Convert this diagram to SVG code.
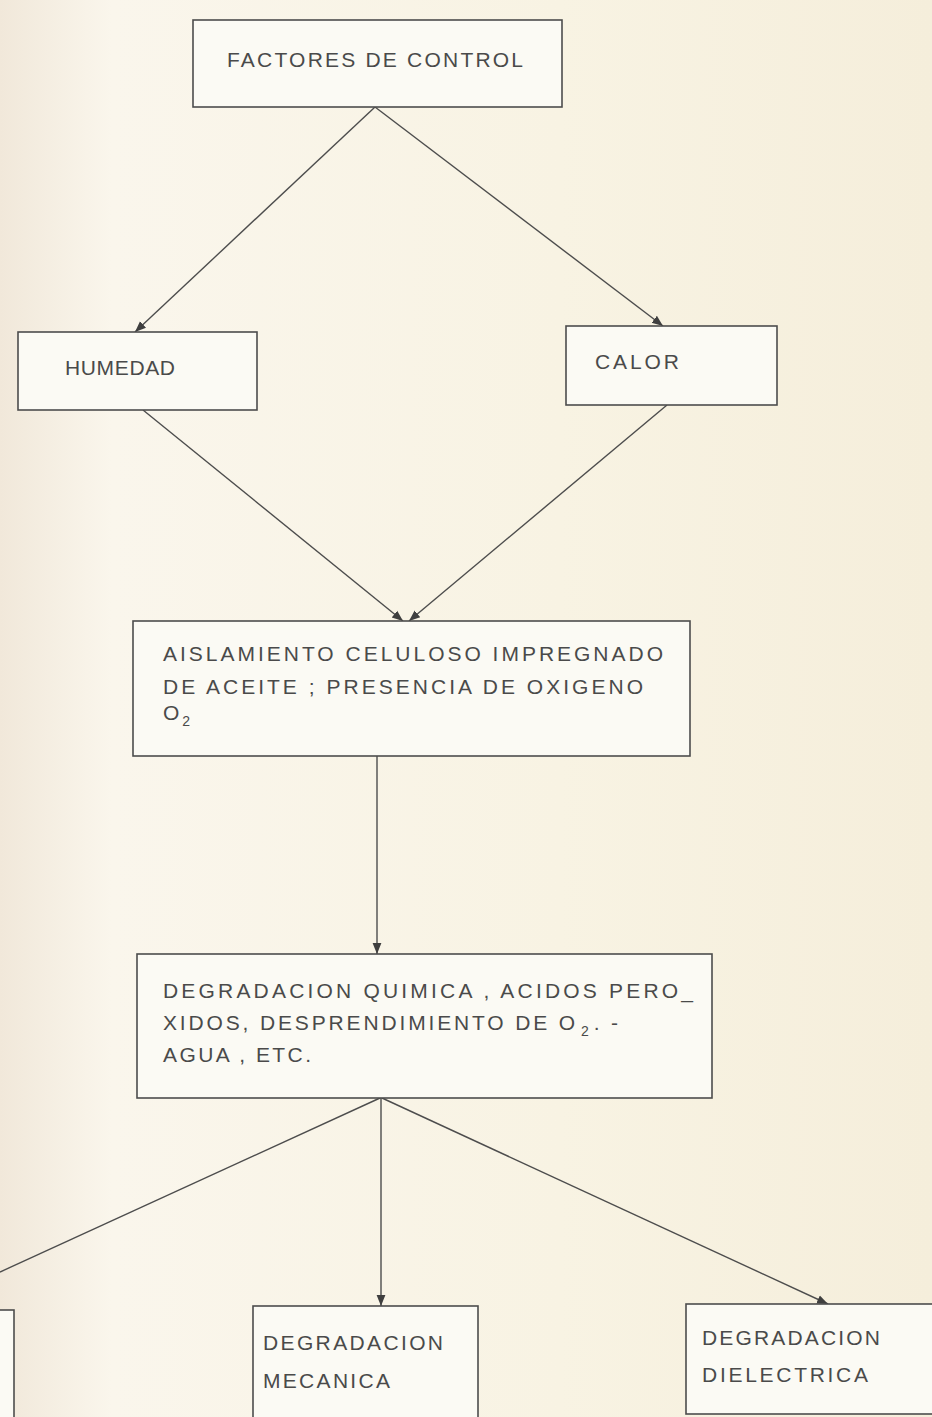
<svg xmlns="http://www.w3.org/2000/svg" width="932" height="1417" viewBox="0 0 932 1417">
  <style>
    .box { fill: #fbfaf4; stroke: #4d4d4d; stroke-width: 1.6; }
    .lbl { font-family: "Liberation Sans", "DejaVu Sans", sans-serif; font-size: 21px; fill: #4a4a4a; }
    .sub { font-size: 14px; }
    .wire { fill: none; stroke: #4d4d4d; stroke-width: 1.4; }
  </style>
  <defs>
    <linearGradient id="paper" x1="0" y1="0" x2="1" y2="0">
      <stop offset="0" stop-color="#f1e8da"/>
      <stop offset="0.12" stop-color="#faf6ec"/>
      <stop offset="0.6" stop-color="#f8f3e3"/>
      <stop offset="1" stop-color="#f5eedb"/>
    </linearGradient>
    <marker id="arrow" viewBox="0 0 10 10" refX="10" refY="5" markerWidth="11" markerHeight="11" markerUnits="userSpaceOnUse" orient="auto">
      <path d="M0,1 L10,5 L0,9 Z" fill="#3f3f3f"/>
    </marker>
  </defs>

  <!-- paper -->
  <rect x="0" y="0" width="932" height="1417" fill="url(#paper)"/>

  <!-- connectors -->
  <g id="connectors" class="wire">
    <line x1="375" y1="107" x2="135" y2="332" marker-end="url(#arrow)"/>
    <line x1="375" y1="107" x2="663" y2="326" marker-end="url(#arrow)"/>
    <line x1="143" y1="410" x2="403" y2="621" marker-end="url(#arrow)"/>
    <line x1="667" y1="405" x2="409" y2="621" marker-end="url(#arrow)"/>
    <line x1="377" y1="756" x2="377" y2="954" marker-end="url(#arrow)"/>
    <line x1="380" y1="1098" x2="0" y2="1272"/>
    <line x1="381" y1="1098" x2="381" y2="1306" marker-end="url(#arrow)"/>
    <line x1="382" y1="1098" x2="828" y2="1304" marker-end="url(#arrow)"/>
  </g>

  <!-- nodes -->
  <g id="factores">
    <rect class="box" x="193" y="20" width="369" height="87"/>
    <text class="lbl" x="227" y="67" textLength="296" lengthAdjust="spacing">FACTORES DE CONTROL</text>
  </g>

  <g id="humedad">
    <rect class="box" x="18" y="332" width="239" height="78"/>
    <text class="lbl" x="65" y="375" textLength="110" lengthAdjust="spacing">HUMEDAD</text>
  </g>

  <g id="calor">
    <rect class="box" x="566" y="326" width="211" height="79"/>
    <text class="lbl" x="595" y="369" textLength="84" lengthAdjust="spacing">CALOR</text>
  </g>

  <g id="aislamiento">
    <rect class="box" x="133" y="621" width="557" height="135"/>
    <text class="lbl" x="163" y="661" textLength="500" lengthAdjust="spacing">AISLAMIENTO CELULOSO IMPREGNADO</text>
    <text class="lbl" x="163" y="694" textLength="480" lengthAdjust="spacing">DE ACEITE ; PRESENCIA DE OXIGENO</text>
    <text class="lbl" x="163" y="720">O<tspan class="sub" dx="3" dy="6">2</tspan></text>
  </g>

  <g id="degradacion-quimica">
    <rect class="box" x="137" y="954" width="575" height="144"/>
    <text class="lbl" x="163" y="998" textLength="530" lengthAdjust="spacing">DEGRADACION QUIMICA , ACIDOS PERO_</text>
    <text class="lbl" x="163" y="1030" textLength="455" lengthAdjust="spacing">XIDOS, DESPRENDIMIENTO DE O<tspan class="sub" dx="3" dy="6">2</tspan><tspan dx="2" dy="-6">. -</tspan></text>
    <text class="lbl" x="163" y="1062" textLength="148" lengthAdjust="spacing">AGUA , ETC.</text>
  </g>

  <g id="degradacion-izquierda">
    <rect class="box" x="-20" y="1310" width="34" height="130"/>
  </g>

  <g id="degradacion-mecanica">
    <rect class="box" x="253" y="1306" width="225" height="130"/>
    <text class="lbl" x="263" y="1350" textLength="180" lengthAdjust="spacing">DEGRADACION</text>
    <text class="lbl" x="263" y="1388" textLength="127" lengthAdjust="spacing">MECANICA</text>
  </g>

  <g id="degradacion-dielectrica">
    <rect class="box" x="686" y="1304" width="260" height="110"/>
    <text class="lbl" x="702" y="1345" textLength="178" lengthAdjust="spacing">DEGRADACION</text>
    <text class="lbl" x="702" y="1382" textLength="166" lengthAdjust="spacing">DIELECTRICA</text>
  </g>
</svg>
